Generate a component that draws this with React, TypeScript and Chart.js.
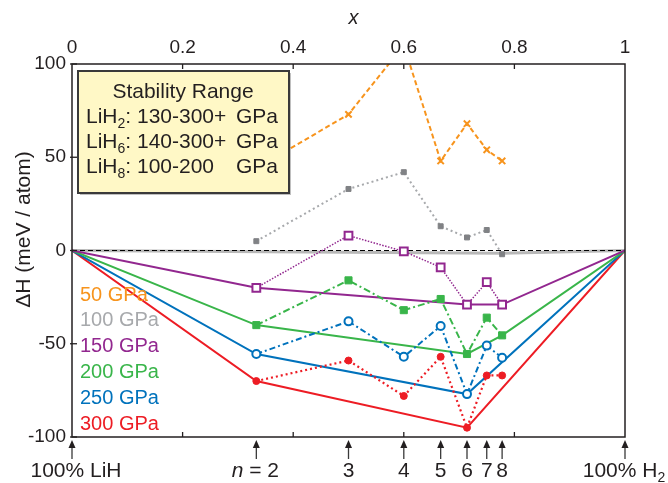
import React, { useEffect, useRef } from "react";
import { Chart, registerables } from "chart.js";
Chart.register(...registerables);

// compositions x for LiH_n, n = 2..8
const nLabels = ["2", "3", "4", "5", "6", "7", "8"];
const compX = [1 / 3, 1 / 2, 3 / 5, 2 / 3, 5 / 7, 3 / 4, 7 / 9];

// formation enthalpies (meV/atom)
const h50 = [44, 73, 110, 48, 68, 54, 48];
const h100 = [5, 33, 42, 13, 7, 11, -2];
const h150 = [-20, 8, -0.5, -9, -29, -17, -29];
const h200 = [-40, -16, -32, -26, -55.5, -36, -45.5];
const h250 = [-55.5, -38, -57, -40.5, -77, -51, -57.5];
const h300 = [-70, -59, -78, -57, -95, -67, -67];

// convex hulls
const hull100X = [0, 7 / 9, 1];
const hull100Y = [0, -1.5, 0];
const hull150X = [0, 1 / 3, 5 / 7, 7 / 9, 1];
const hull150Y = [0, -20, -29, -29, 0];
const hull200X = [0, 1 / 3, 5 / 7, 7 / 9, 1];
const hull200Y = [0, -40, -55.5, -45.5, 0];
const hull250X = [0, 1 / 3, 5 / 7, 1];
const hull250Y = [0, -55.5, -77, 0];
const hull300X = [0, 1 / 3, 5 / 7, 1];
const hull300Y = [0, -70, -95, 0];

const zeroX = [0, 1];
const zeroY = [0, 0];

const pressures = ["50 GPa", "100 GPa", "150 GPa", "200 GPa", "250 GPa", "300 GPa"];
const stabilityLines = [
  ["LiH", "2", ": 130-300+"],
  ["LiH", "6", ": 140-300+"],
  ["LiH", "8", ": 100-200"],
];

const ORANGE = "#F7941D";
const GRAY = "#A7A9AC";
const GRAYM = "#808285";
const PURPLE = "#92278F";
const GREEN = "#39B54A";
const BLUE = "#0072BC";
const RED = "#ED1C24";
const INK = "#231F20";
const colors = [ORANGE, GRAY, PURPLE, GREEN, BLUE, RED];
const FONT = "'Liberation Sans', Arial, Helvetica, sans-serif";

const pts = (xs: number[], ys: number[]) => xs.map((x, i) => ({ x, y: ys[i] }));

function drawParts(ctx: CanvasRenderingContext2D, parts: { t: string; sub?: boolean; it?: boolean }[], x: number, y: number, size: number, align: "left" | "center" | "right") {
  const fontOf = (p: any) => `${p.it ? "italic " : ""}${p.sub ? Math.round(size * 0.68) : size}px ${FONT}`;
  let total = 0;
  const widths = parts.map((p) => {
    ctx.font = fontOf(p);
    const w = ctx.measureText(p.t).width;
    total += w;
    return w;
  });
  let cx = align === "left" ? x : align === "center" ? x - total / 2 : x - total;
  ctx.textAlign = "left";
  ctx.textBaseline = "middle";
  parts.forEach((p, i) => {
    ctx.font = fontOf(p);
    ctx.fillText(p.t, cx, p.sub ? y + size * 0.32 : y);
    cx += widths[i];
  });
}

const decor = {
  id: "decor",
  afterDatasetsDraw(chart: any) {
    const { ctx, chartArea: a, scales } = chart;
    const xs = scales.x;
    const ys = scales.y;
    ctx.save();
    ctx.fillStyle = INK;
    ctx.strokeStyle = INK;

    // frame
    ctx.lineWidth = 1.5;
    ctx.setLineDash([]);
    ctx.strokeRect(a.left, a.top, a.right - a.left, a.bottom - a.top);

    // inward ticks
    ctx.lineWidth = 1.3;
    [0.2, 0.4, 0.6, 0.8].forEach((v) => {
      const px = xs.getPixelForValue(v);
      ctx.beginPath();
      ctx.moveTo(px, a.top);
      ctx.lineTo(px, a.top + 5);
      ctx.moveTo(px, a.bottom);
      ctx.lineTo(px, a.bottom - 5);
      ctx.stroke();
    });
    [-100, -50, 0, 50, 100].forEach((v) => {
      const py = ys.getPixelForValue(v);
      ctx.beginPath();
      ctx.moveTo(a.left - 2, py);
      ctx.lineTo(a.left + 5, py);
      ctx.stroke();
    });

    // stability box
    const bx = 78, by = 71, bw = 211, bh = 122;
    ctx.fillStyle = "rgba(0,0,0,0.25)";
    ctx.fillRect(bx + 2, by + 2, bw, bh);
    ctx.fillStyle = "#FFF8C6";
    ctx.fillRect(bx, by, bw, bh);
    ctx.lineWidth = 2;
    ctx.strokeStyle = "#3a3a3a";
    ctx.strokeRect(bx, by, bw, bh);
    ctx.fillStyle = INK;
    drawParts(ctx, [{ t: "Stability Range" }], 183, 92, 21, "center");
    stabilityLines.forEach((l, i) => {
      const yy = 117 + i * 25;
      drawParts(ctx, [{ t: l[0] }, { t: l[1], sub: true }, { t: l[2] }], 86, yy, 21, "left");
      drawParts(ctx, [{ t: "GPa" }], 278, yy, 21, "right");
    });

    // pressure legend
    pressures.forEach((p, i) => {
      ctx.fillStyle = colors[i];
      drawParts(ctx, [{ t: p }], 80, 295 + i * 25.8, 20, "left");
    });

    // y axis title
    ctx.fillStyle = INK;
    ctx.save();
    ctx.translate(24, (a.top + a.bottom) / 2 - 21);
    ctx.rotate(-Math.PI / 2);
    drawParts(ctx, [{ t: "\u0394H (meV / atom)" }], 0, 0, 21, "center");
    ctx.restore();

    // top title
    drawParts(ctx, [{ t: "x", it: true }], (a.left + a.right) / 2 + 5, 18, 20, "center");

    // bottom arrows and labels
    const arrowXs = [0, ...compX, 1];
    ctx.lineWidth = 1.3;
    arrowXs.forEach((v) => {
      const px = xs.getPixelForValue(v);
      ctx.beginPath();
      ctx.moveTo(px, 459);
      ctx.lineTo(px, 446);
      ctx.stroke();
      ctx.beginPath();
      ctx.moveTo(px, 440);
      ctx.lineTo(px - 3.5, 448);
      ctx.lineTo(px + 3.5, 448);
      ctx.closePath();
      ctx.fill();
    });
    const ly = 471;
    drawParts(ctx, [{ t: "100% LiH" }], xs.getPixelForValue(0) + 4, ly, 21, "center");
    compX.forEach((v, i) => {
      const px = xs.getPixelForValue(v);
      if (i === 0) drawParts(ctx, [{ t: "n", it: true }, { t: " = " + nLabels[i] }], px - 1, ly, 21, "center");
      else drawParts(ctx, [{ t: nLabels[i] }], px, ly, 21, "center");
    });
    drawParts(ctx, [{ t: "100% H" }, { t: "2", sub: true }], xs.getPixelForValue(1) - 1, ly, 21, "center");

    ctx.restore();
  },
};

export default function App() {
  const ref = useRef<HTMLCanvasElement>(null);
  useEffect(() => {
    if (!ref.current) return;
    const tickFont = { family: FONT, size: 19 };
    const chart = new Chart(ref.current, {
      type: "scatter",
      data: {
        datasets: [
          { data: pts(compX, h50), showLine: true, borderColor: ORANGE, borderWidth: 2, borderDash: [5, 3], pointStyle: "crossRot", pointRadius: 4.5, pointBorderWidth: 2, pointBorderColor: ORANGE, clip: 0 } as any,
          { data: pts(compX, h100), showLine: true, borderColor: GRAY, borderWidth: 2, borderDash: [2, 3], pointStyle: "rect", pointRadius: 3.5, pointBackgroundColor: GRAYM, pointBorderColor: GRAYM, pointBorderWidth: 1 },
          { data: pts(compX, h150), showLine: true, borderColor: PURPLE, borderWidth: 1.5, borderDash: [1.5, 1.5], pointStyle: "rect", pointRadius: 5.5, pointBackgroundColor: "#ffffff", pointBorderColor: PURPLE, pointBorderWidth: 2 },
          { data: pts(compX, h200), showLine: true, borderColor: GREEN, borderWidth: 2, borderDash: [7, 3, 2, 3], pointStyle: "rect", pointRadius: 5, pointBackgroundColor: GREEN, pointBorderColor: GREEN, pointBorderWidth: 1 },
          { data: pts(compX, h250), showLine: true, borderColor: BLUE, borderWidth: 2, borderDash: [6, 3, 2, 3], pointStyle: "circle", pointRadius: 4, pointBackgroundColor: "#ffffff", pointBorderColor: BLUE, pointBorderWidth: 2 },
          { data: pts(compX, h300), showLine: true, borderColor: RED, borderWidth: 2.2, borderDash: [2, 3], pointStyle: "circle", pointRadius: 3.5, pointBackgroundColor: RED, pointBorderColor: RED, pointBorderWidth: 1 },
          { data: pts(hull150X, hull150Y), showLine: true, borderColor: PURPLE, borderWidth: 2, pointRadius: 0 },
          { data: pts(hull200X, hull200Y), showLine: true, borderColor: GREEN, borderWidth: 2, pointRadius: 0 },
          { data: pts(hull250X, hull250Y), showLine: true, borderColor: BLUE, borderWidth: 2, pointRadius: 0 },
          { data: pts(hull300X, hull300Y), showLine: true, borderColor: RED, borderWidth: 2, pointRadius: 0 },
          { data: pts(zeroX, zeroY), showLine: true, borderColor: "#000000", borderWidth: 1.2, borderDash: [5, 3], pointRadius: 0 },
          { data: pts(hull100X, hull100Y), showLine: true, borderColor: "#B8B8B8", borderWidth: 3, pointRadius: 0 },
        ],
      },
      options: {
        animation: false,
        responsive: false,
        devicePixelRatio: 1,
        layout: { padding: { left: 0, right: 43, top: 0, bottom: 0 } },
        plugins: { legend: { display: false }, tooltip: { enabled: false } },
        scales: {
          x: {
            type: "linear", position: "bottom", min: 0, max: 1,
            ticks: { display: false },
            grid: { display: false, drawTicks: false },
            border: { display: false },
            afterFit: (s: any) => { s.height = 46; },
          },
          xTop: {
            type: "linear", position: "top", min: 0, max: 1,
            ticks: {
              stepSize: 0.2, font: tickFont, color: INK, padding: 5, maxRotation: 0, autoSkip: false,
              callback: (v: any) => String(Number(Number(v).toFixed(1))),
            },
            grid: { display: false, drawTicks: false },
            border: { display: false },
            afterFit: (s: any) => { s.height = 64; },
          },
          y: {
            type: "linear", position: "left", min: -100, max: 100,
            ticks: { stepSize: 50, font: tickFont, color: INK, padding: 6 },
            grid: { display: false, drawTicks: false },
            border: { display: false },
            afterFit: (s: any) => { s.width = 72; },
          },
        },
      } as any,
      plugins: [decor],
    });
    return () => chart.destroy();
  }, []);
  return (
    <div style={{ position: "fixed", left: 0, top: 0, width: 668, height: 483, background: "#fff" }}>
      <canvas ref={ref} width={668} height={483} style={{ display: "block" }} />
    </div>
  );
}
